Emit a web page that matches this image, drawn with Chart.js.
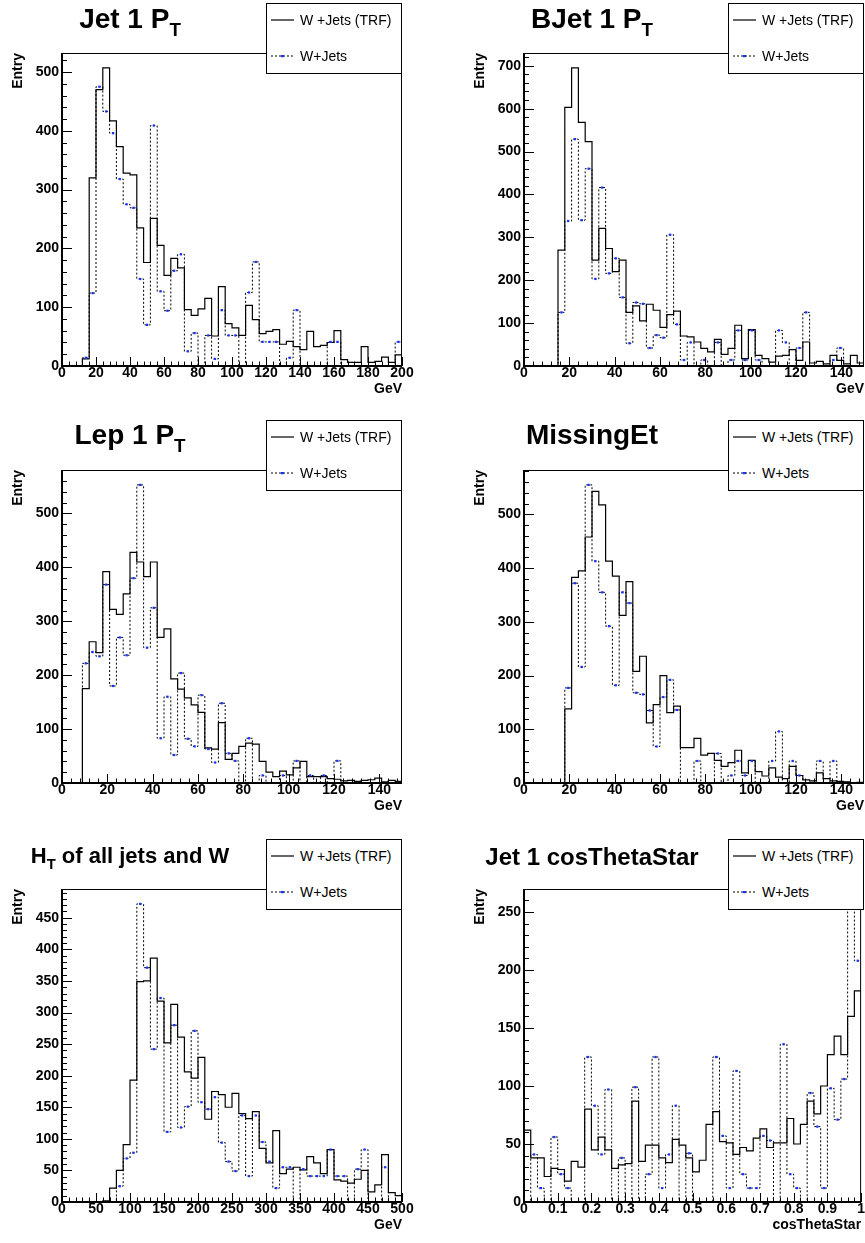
<!DOCTYPE html>
<html>
<head>
<meta charset="utf-8">
<title>W+Jets TRF comparison</title>
<script src="https://cdn.jsdelivr.net/npm/chart.js@4.4.1/dist/chart.umd.min.js"></script>
<style>
body { margin: 0; background: #fff; }
#page { position: relative; width: 865px; height: 1243px; overflow: hidden; font-family: "Liberation Sans", Arial, Helvetica, sans-serif; color: #000; }
.panel { position: absolute; overflow: hidden; }
.panel canvas { position: absolute; left: 0; top: 0; }
.title { position: absolute; left: 0; width: 260px; text-align: center; font-weight: bold; white-space: nowrap; }
.title sub { font-size: 0.67em; vertical-align: -0.42em; line-height: 0; }
.legend { position: absolute; top: 3px; width: 134px; height: 69px; border: 1px solid #000; background: #fff; font-size: 14px; }
.legend .row { position: absolute; left: 4px; height: 16px; line-height: 16px; white-space: nowrap; }
.legend svg { position: absolute; left: 0; top: 5px; }
.legend span { position: absolute; left: 29px; top: 0; }
</style>
</head>
<body>
<div id="page"></div>
<script>
// each histogram has 50 equal bins
// Jet 1 PT, 0-200 GeV
const jet1PtTrf = [0,0,0,12,320,470,507,417,373,328,
                   325,235,176,251,205,154,183,167,96,86,
                   97,115,51,135,72,65,52,103,79,55,
                   59,62,37,42,33,28,59,33,35,40,
                   60,11,6,6,33,6,8,15,6,19];
const jet1PtWj  = [0,0,0,14,124,475,433,396,318,275,
                   269,148,70,409,127,94,162,190,25,56,
                   0,52,12,95,52,52,0,125,177,41,
                   41,41,0,14,95,0,0,0,0,41,
                   41,0,0,0,0,0,0,0,0,41];
// BJet 1 PT, 0-150 GeV
const bjetPtTrf = [0,0,0,0,0,270,603,695,568,523,
                   247,321,274,220,247,125,140,105,144,130,
                   90,120,128,70,68,56,41,33,62,27,
                   41,95,17,85,25,17,9,23,25,38,
                   13,56,7,11,5,25,13,5,25,7];
const bjetPtWj  = [0,0,0,0,0,125,338,529,340,460,
                   203,416,216,251,160,53,148,145,42,72,
                   66,306,97,14,55,0,14,0,55,0,
                   14,83,14,83,14,0,0,83,55,0,
                   42,125,0,0,0,14,42,0,0,0];
// Lep 1 PT, 0-150 GeV
const lep1PtTrf = [0,0,0,175,262,242,392,322,313,351,
                   428,410,383,410,270,286,193,174,158,145,
                   131,65,63,112,44,55,68,74,72,40,
                   20,12,22,15,28,40,12,12,12,8,
                   7,4,5,3,5,6,9,2,5,3];
const lep1PtWj  = [0,0,0,222,243,235,368,180,270,237,
                   380,553,251,325,83,160,52,204,82,68,
                   163,63,38,148,55,41,0,83,0,14,
                   0,0,14,0,41,0,14,0,14,0,
                   41,0,0,0,0,0,0,0,0,0];
// MissingEt, 0-150 GeV
const metTrf    = [0,0,0,0,0,0,138,383,395,458,
                   543,518,413,385,312,375,208,236,112,146,
                   200,131,143,66,66,83,52,55,42,31,
                   38,61,19,42,21,13,28,11,8,31,
                   14,6,4,19,8,4,3,2,0,1];
const metWj     = [0,0,0,0,0,0,177,372,216,555,
                   413,355,292,182,355,335,168,165,135,68,
                   160,192,136,0,0,41,0,0,55,0,
                   14,41,14,41,0,0,41,96,0,41,
                   14,0,0,41,0,41,0,0,0,0];
// HT of all jets and W, 0-500 GeV
const htTrf     = [0,0,0,0,0,0,2,22,50,91,
                   193,349,350,386,318,252,313,261,206,196,
                   229,131,175,170,150,172,140,132,143,85,
                   62,113,45,52,55,51,72,62,45,83,
                   35,33,30,36,50,16,27,75,15,10];
const htWj      = [0,0,0,0,0,0,0,0,25,69,
                   78,472,371,242,323,111,280,118,151,271,
                   158,147,166,94,64,49,137,41,137,95,
                   64,22,55,55,0,52,41,41,41,83,
                   41,41,0,52,83,0,0,55,0,0];
// Jet 1 cosThetaStar, 0-1
const cosTrf    = [62,38,38,22,29,28,18,35,30,80,
                   45,56,45,29,32,33,87,35,49,49,
                   38,34,54,49,38,26,36,67,78,52,
                   51,41,47,44,55,63,47,51,51,72,
                   50,67,87,76,100,127,143,127,160,182];
const cosWj     = [0,41,12,0,56,24,12,0,0,125,
                   83,41,97,0,38,0,99,0,24,125,
                   12,41,83,0,42,0,0,0,125,57,
                   12,113,24,12,12,57,53,0,136,24,
                   12,0,94,65,12,98,71,106,257,208];

const legendLabels = ['W +Jets (TRF)', 'W+Jets'];
const blue = '#1533ff';

const panels = [
  {title: 'Jet 1 P<sub>T</sub>', tSize: 28, tTop: 5, xTitle: 'GeV', lo: 0, hi: 200, trf: jet1PtTrf, wj: jet1PtWj, xMajor: 20, yMajor: 100, left: 0, top: 0, w: 432, h: 417},
  {title: 'BJet 1 P<sub>T</sub>', tSize: 28, tTop: 5, xTitle: 'GeV', lo: 0, hi: 150, trf: bjetPtTrf, wj: bjetPtWj, xMajor: 20, yMajor: 100, left: 462, top: 0, w: 403, h: 417},
  {title: 'Lep 1 P<sub>T</sub>', tSize: 28, tTop: 4, xTitle: 'GeV', lo: 0, hi: 150, trf: lep1PtTrf, wj: lep1PtWj, xMajor: 20, yMajor: 100, left: 0, top: 417, w: 432, h: 417},
  {title: 'MissingEt', tSize: 28, tTop: 4, xTitle: 'GeV', lo: 0, hi: 150, trf: metTrf, wj: metWj, xMajor: 20, yMajor: 100, left: 462, top: 417, w: 403, h: 417},
  {title: 'H<sub>T</sub> of all jets and W', tSize: 22, tTop: 9, xTitle: 'GeV', lo: 0, hi: 500, trf: htTrf, wj: htWj, xMajor: 50, yMajor: 50, left: 0, top: 836, w: 432, h: 407},
  {title: 'Jet 1 cosThetaStar', tSize: 24, tTop: 9, xTitle: 'cosThetaStar', lo: 0, hi: 1, trf: cosTrf, wj: cosWj, xMajor: 0.1, yMajor: 50, left: 462, top: 836, w: 403, h: 407}
];

// outline of a histogram: two points per bin (low edge, high edge)
function histPoints(lo, bw, vals) {
  const pts = [];
  vals.forEach(function(v, i) {
    pts.push({x: lo + i * bw, y: v});
    pts.push({x: lo + (i + 1) * bw, y: v});
  });
  return pts;
}

function markerPoints(lo, bw, vals) {
  return vals.map(function(v, i) { return {x: lo + (i + 0.5) * bw, y: v}; })
             .filter(function(p) { return p.y > 0; });
}

// ROOT-like frame with ticks pointing into the plot
const rootFrame = {
  id: 'rootFrame',
  afterDraw: function(chart, args, opts) {
    const ctx = chart.ctx, a = chart.chartArea;
    const xs = chart.scales.x, ys = chart.scales.y;
    ctx.save();
    ctx.strokeStyle = '#000';
    ctx.lineWidth = 1;
    ctx.beginPath();
    const xMinor = opts.xMajor / 5, yMinor = opts.yMajor / 5;
    for (let k = 0; xs.min + k * xMinor <= xs.max + 1e-9; k++) {
      const px = Math.round(xs.getPixelForValue(xs.min + k * xMinor)) + 0.5;
      const len = (k % 5 === 0) ? 9 : 4.5;
      ctx.moveTo(px, a.bottom);
      ctx.lineTo(px, a.bottom - len);
    }
    for (let k = 0; ys.min + k * yMinor <= ys.max + 1e-9; k++) {
      const py = Math.round(ys.getPixelForValue(ys.min + k * yMinor)) + 0.5;
      const len = (k % 5 === 0) ? 10 : 5;
      ctx.moveTo(a.left, py);
      ctx.lineTo(a.left + len, py);
    }
    ctx.stroke();
    ctx.strokeRect(a.left + 0.5, a.top + 0.5, a.right - a.left - 1, a.bottom - a.top - 1);
    ctx.lineWidth = 2;
    ctx.beginPath();
    ctx.moveTo(a.left, a.top);
    ctx.lineTo(a.left, a.bottom);
    ctx.lineTo(a.right, a.bottom);
    ctx.stroke();
    ctx.restore();
  }
};

Chart.defaults.font.family = '"Liberation Sans", Arial, Helvetica, sans-serif';
Chart.defaults.color = '#000';

function legendHtml() {
  const solid = '<svg width="24" height="6"><line x1="0" y1="3" x2="23" y2="3" stroke="#000" stroke-width="1.2"/></svg>';
  const dotted = '<svg width="24" height="6"><line x1="0" y1="3" x2="23" y2="3" stroke="#000" stroke-width="1" stroke-dasharray="2,2"/>' +
                 '<rect x="10" y="2" width="3" height="2.2" fill="' + blue + '"/></svg>';
  return '<div class="row" style="top:8px">' + solid + '<span>' + legendLabels[0] + '</span></div>' +
         '<div class="row" style="top:44px">' + dotted + '<span>' + legendLabels[1] + '</span></div>';
}

function buildPanel(p) {
  const box = document.createElement('div');
  box.className = 'panel';
  box.style.left = p.left + 'px';
  box.style.top = p.top + 'px';
  box.style.width = (p.left + p.w > 865 ? 865 - p.left : p.w) + 'px';
  box.style.height = p.h + 'px';

  const canvas = document.createElement('canvas');
  canvas.width = p.w;
  canvas.height = p.h;
  box.appendChild(canvas);

  const title = document.createElement('div');
  title.className = 'title';
  title.style.fontSize = p.tSize + 'px';
  title.style.lineHeight = p.tSize + 'px';
  title.style.top = p.tTop + 'px';
  title.innerHTML = p.title;
  box.appendChild(title);

  const leg = document.createElement('div');
  leg.className = 'legend';
  leg.style.left = '266px';
  leg.innerHTML = legendHtml();
  box.appendChild(leg);

  document.getElementById('page').appendChild(box);

  const bw = (p.hi - p.lo) / p.trf.length;
  const ymax = 1.05 * Math.max(Math.max.apply(null, p.trf), Math.max.apply(null, p.wj));
  const tickFont = {size: 14, weight: 'bold', lineHeight: 1};
  const titleFont = {size: 14, weight: 'bold', lineHeight: 1.2};

  new Chart(canvas, {
    type: 'line',
    data: {
      datasets: [
        {label: legendLabels[1] + ' markers', data: markerPoints(p.lo, bw, p.wj), showLine: false,
         pointStyle: 'rect', pointRadius: 1.6, pointBackgroundColor: blue, pointBorderWidth: 0},
        {label: legendLabels[0], data: histPoints(p.lo, bw, p.trf), borderColor: '#000',
         borderWidth: 1.2, pointRadius: 0, fill: false},
        {label: legendLabels[1], data: histPoints(p.lo, bw, p.wj), borderColor: '#000',
         borderWidth: 1, borderDash: [2, 2], pointRadius: 0, fill: false}
      ]
    },
    options: {
      responsive: false,
      animation: false,
      events: [],
      layout: {autoPadding: false, padding: {top: 53, left: 0, right: p.w - 402, bottom: p.h - 398}},
      plugins: {
        legend: {display: false},
        tooltip: {enabled: false},
        rootFrame: {xMajor: p.xMajor, yMajor: p.yMajor}
      },
      scales: {
        x: {
          type: 'linear', min: p.lo, max: p.hi,
          grid: {display: false, drawTicks: false}, border: {display: false},
          ticks: {stepSize: p.xMajor, includeBounds: false, autoSkip: false, maxRotation: 0,
                  padding: 0, font: tickFont, color: '#000',
                  callback: function(v) { return String(Math.round(v * 100) / 100); }},
          title: {display: true, text: p.xTitle, align: 'end', font: titleFont, color: '#000', padding: {top: 0, bottom: 0}},
          afterFit: function(s) { s.height = 32; }
        },
        y: {
          min: 0, max: ymax,
          grid: {display: false, drawTicks: false}, border: {display: false},
          ticks: {stepSize: p.yMajor, includeBounds: false, padding: 3, font: tickFont, color: '#000'},
          title: {display: true, text: 'Entry', align: 'end', font: titleFont, color: '#000', padding: {top: 10, bottom: 0}},
          afterFit: function(s) { s.width = 62; }
        }
      }
    },
    plugins: [rootFrame]
  });
}

window.onload = function() {
  panels.forEach(buildPanel);
};
</script>
</body>
</html>
